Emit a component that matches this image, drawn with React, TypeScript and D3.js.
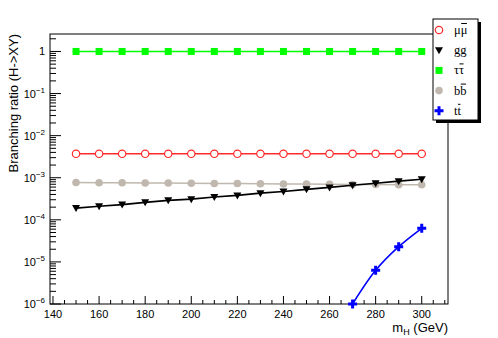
import { useEffect, useRef } from "react";
import * as d3 from "d3";

// Higgs masses (GeV)
const masses = [150, 160, 170, 180, 190, 200, 210, 220, 230, 240, 250, 260, 270, 280, 290, 300];
const brMuMu = [3.7e-3, 3.7e-3, 3.7e-3, 3.7e-3, 3.7e-3, 3.7e-3, 3.7e-3, 3.7e-3, 3.7e-3, 3.7e-3, 3.7e-3, 3.7e-3, 3.7e-3, 3.7e-3, 3.7e-3, 3.7e-3];
const brGG = [1.9e-4, 2.1e-4, 2.3e-4, 2.6e-4, 2.9e-4, 3.1e-4, 3.5e-4, 3.8e-4, 4.3e-4, 4.7e-4, 5.3e-4, 5.9e-4, 6.6e-4, 7.4e-4, 8.3e-4, 9.2e-4];
const brTauTau = [1, 1, 1, 1, 1, 1, 1, 1, 1, 1, 1, 1, 1, 1, 1, 1];
const brBB = [7.7e-4, 7.6e-4, 7.6e-4, 7.5e-4, 7.5e-4, 7.4e-4, 7.3e-4, 7.3e-4, 7.2e-4, 7.1e-4, 7.1e-4, 7.0e-4, 6.9e-4, 6.9e-4, 6.8e-4, 6.8e-4];
const massesTT = [270, 280, 290, 300];
const brTT = [1.0e-6, 6.3e-6, 2.3e-5, 6.3e-5];

const xTicks = [140, 160, 180, 200, 220, 240, 260, 280, 300];
const yExponents = [-6, -5, -4, -3, -2, -1, 0];

export default function App() {
  const ref = useRef<HTMLDivElement>(null);

  useEffect(() => {
    const container = d3.select(ref.current);
    container.selectAll("*").remove();

    const width = 498, height = 338;
    const left = 50, right = 448, top = 34, bottom = 304;

    const svg = container.append("svg")
      .attr("width", width)
      .attr("height", height)
      .style("position", "absolute")
      .style("left", "0px")
      .style("top", "0px")
      .style("background", "#fff")
      .style("font-family", "'Liberation Sans', Arial, sans-serif");

    const x = d3.scaleLinear().domain([138.7, 311.4]).range([left, right]);
    const y = d3.scaleLog().domain([1e-6, 2.6]).range([bottom, top]);

    svg.append("defs").append("clipPath").attr("id", "plotclip")
      .append("rect").attr("x", left).attr("y", top).attr("width", right - left).attr("height", bottom - top);

    // frame
    svg.append("rect")
      .attr("x", left).attr("y", top)
      .attr("width", right - left).attr("height", bottom - top)
      .attr("fill", "none").attr("stroke", "#000").attr("stroke-width", 1);

    // x ticks
    const xg = svg.append("g");
    for (let v = 140; v <= 310; v += 5) {
      const major = v % 20 === 0;
      xg.append("line")
        .attr("x1", x(v)).attr("x2", x(v))
        .attr("y1", bottom).attr("y2", bottom - (major ? 8 : 4))
        .attr("stroke", "#000");
    }
    xg.selectAll("text.xl").data(xTicks).join("text")
      .attr("x", d => x(d)).attr("y", 318)
      .attr("text-anchor", "middle")
      .attr("font-size", 11)
      .text(d => d);

    // y ticks
    const yg = svg.append("g");
    yExponents.forEach(e => {
      const base = Math.pow(10, e);
      yg.append("line")
        .attr("x1", left).attr("x2", left + 11)
        .attr("y1", y(base)).attr("y2", y(base))
        .attr("stroke", "#000");
      for (let k = 2; k <= 9; k++) {
        const v = base * k;
        if (v > y.domain()[1]) break;
        yg.append("line")
          .attr("x1", left).attr("x2", left + 6)
          .attr("y1", y(v)).attr("y2", y(v))
          .attr("stroke", "#000");
      }
      const t = yg.append("text")
        .attr("x", 45).attr("y", y(base) + 4)
        .attr("text-anchor", "end")
        .attr("font-size", 11);
      if (e === 0) {
        t.text("1");
      } else {
        t.append("tspan").text("10");
        t.append("tspan").attr("dy", -5).attr("font-size", 8).text("\u2212" + Math.abs(e));
      }
    });

    // axis titles
    svg.append("text")
      .attr("transform", `translate(18, ${top}) rotate(-90)`)
      .attr("text-anchor", "end")
      .attr("font-size", 13)
      .text("Branching ratio (H->XY)");

    const xt = svg.append("text")
      .attr("x", right).attr("y", 332)
      .attr("text-anchor", "end")
      .attr("font-size", 13);
    xt.append("tspan").text("m");
    xt.append("tspan").attr("dy", 3).attr("font-size", 9).text("H");
    xt.append("tspan").attr("dy", -3).text(" (GeV)");

    const series = [
      { xs: masses, ys: brTauTau, color: "#00ff00", marker: "square", curve: d3.curveLinear },
      { xs: masses, ys: brMuMu, color: "#ff2a2a", marker: "opencircle", curve: d3.curveLinear },
      { xs: masses, ys: brBB, color: "#c0b8ae", marker: "circle", curve: d3.curveLinear },
      { xs: masses, ys: brGG, color: "#000000", marker: "triangle", curve: d3.curveLinear },
      { xs: massesTT, ys: brTT, color: "#0000ff", marker: "cross", curve: d3.curveCatmullRom },
    ];

    const drawMarker = (g: any, type: string, cx: number, cy: number, color: string) => {
      if (type === "square") {
        g.append("rect").attr("x", cx - 3.5).attr("y", cy - 3.5).attr("width", 7).attr("height", 7).attr("fill", color);
      } else if (type === "opencircle") {
        g.append("circle").attr("cx", cx).attr("cy", cy).attr("r", 3.7).attr("fill", "#fff").attr("stroke", color).attr("stroke-width", 1.2);
      } else if (type === "circle") {
        g.append("circle").attr("cx", cx).attr("cy", cy).attr("r", 3.8).attr("fill", color);
      } else if (type === "triangle") {
        g.append("path").attr("d", `M${cx - 4},${cy - 3} L${cx + 4},${cy - 3} L${cx},${cy + 4} Z`).attr("fill", color);
      } else if (type === "cross") {
        g.append("path")
          .attr("d", `M${cx - 1.5},${cy - 4.5} h3 v3 h3 v3 h-3 v3 h-3 v-3 h-3 v-3 h3 Z`)
          .attr("fill", color);
      }
    };

    series.forEach(s => {
      const pts = s.xs.map((m, i) => [m, s.ys[i]] as [number, number]);
      const line = d3.line<[number, number]>()
        .x(d => x(d[0]))
        .y(d => y(d[1]))
        .curve(s.curve);
      svg.append("path")
        .attr("d", line(pts))
        .attr("fill", "none")
        .attr("stroke", s.color)
        .attr("stroke-width", 1.6)
        .attr("clip-path", "url(#plotclip)");
      const g = svg.append("g");
      pts.forEach(p => drawMarker(g, s.marker, x(p[0]), y(p[1]), s.color));
    });

    // legend
    const lx = 433, ly = 19, lw = 45, lh = 101;
    svg.append("rect").attr("x", lx + 3).attr("y", ly + 3).attr("width", lw).attr("height", lh).attr("fill", "#000");
    svg.append("rect").attr("x", lx).attr("y", ly).attr("width", lw).attr("height", lh)
      .attr("fill", "#fff").attr("stroke", "#000").attr("stroke-width", 1);

    const legendItems = [
      { label: "\u03bc\u03bc", bar: true, marker: "opencircle", color: "#ff2a2a" },
      { label: "gg", bar: false, marker: "triangle", color: "#000000" },
      { label: "\u03c4\u03c4", bar: true, marker: "square", color: "#00ff00" },
      { label: "bb", bar: true, marker: "circle", color: "#c0b8ae" },
      { label: "tt", bar: true, marker: "cross", color: "#0000ff" },
    ];
    const lg = svg.append("g");
    legendItems.forEach((it, i) => {
      const cy = 30 + i * 20.2;
      drawMarker(lg, it.marker, 439, cy, it.color);
      const t = lg.append("text")
        .attr("x", 454).attr("y", cy + 4)
        .attr("font-family", "'Liberation Serif', 'Times New Roman', serif")
        .attr("font-size", 12.5)
        .text(it.label);
      if (it.bar) {
        const node = t.node() as SVGTextElement;
        const ext = node.getExtentOfChar(1);
        lg.append("line")
          .attr("x1", ext.x + 0.5).attr("x2", ext.x + ext.width - 0.5)
          .attr("y1", cy - 6.5).attr("y2", cy - 6.5)
          .attr("stroke", "#000").attr("stroke-width", 1);
      }
    });
  }, []);

  return <div ref={ref}></div>;
}
